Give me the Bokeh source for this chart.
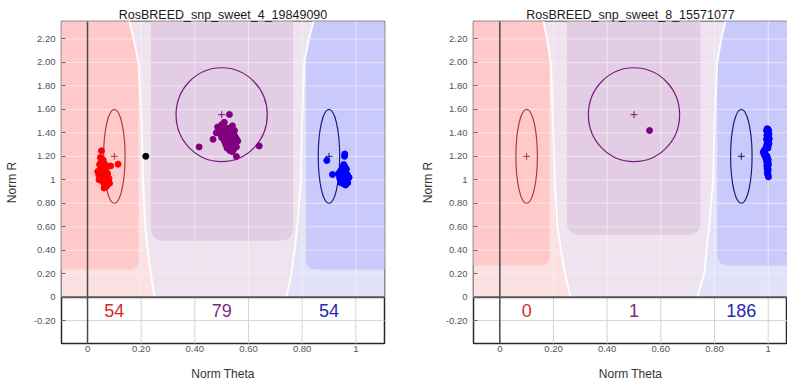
import numpy as np
from bokeh.plotting import figure
from bokeh.layouts import row
from bokeh.models import Range1d, FixedTicker
from bokeh.embed import file_html
from bokeh.resources import INLINE
from bokeh.core.properties import value

# ---------------- data ----------------
titles = ["RosBREED_snp_sweet_4_19849090", "RosBREED_snp_sweet_8_15571077"]
x_ticks = [0, 0.2, 0.4, 0.6, 0.8, 1.0]
x_tick_labels = ["0", "0.20", "0.40", "0.60", "0.80", "1"]
y_ticks = [-0.2, 0, 0.2, 0.4, 0.6, 0.8, 1.0, 1.2, 1.4, 1.6, 1.8, 2.0, 2.2]
y_tick_labels = ["-0.20", "0", "0.20", "0.40", "0.60", "0.80", "1", "1.20",
                 "1.40", "1.60", "1.80", "2.00", "2.20"]

# cluster ellipses: AA, AB, BB
cluster_x = [0.1, 0.5, 0.9]
cluster_y = [1.2, 1.555, 1.2]
cluster_w = [0.08, 0.34, 0.08]
cluster_h = [0.8, 0.8, 0.8]

counts_1 = [54, 79, 54]
counts_2 = [0, 1, 186]

# panel 1 samples
p1_aa_x = [0.052, 0.048, 0.058, 0.050, 0.062, 0.045, 0.070, 0.055, 0.060, 0.048,
           0.066, 0.055, 0.038, 0.070, 0.060, 0.050, 0.075, 0.042, 0.065, 0.057,
           0.072, 0.047, 0.062, 0.080, 0.043, 0.068, 0.055, 0.074, 0.060, 0.082,
           0.065, 0.072, 0.068, 0.062, 0.086, 0.114, 0.075, 0.058, 0.064, 0.052]
p1_aa_y = [1.247, 1.190, 1.170, 1.150, 1.140, 1.130, 1.120, 1.110, 1.100, 1.090,
           1.090, 1.080, 1.070, 1.070, 1.060, 1.055, 1.050, 1.040, 1.040, 1.030,
           1.020, 1.020, 1.010, 1.010, 1.000, 0.995, 0.990, 0.980, 0.975, 0.970,
           0.960, 0.950, 0.940, 0.930, 1.118, 1.133, 1.000, 1.060, 1.075, 1.035]
p1_ab_x = [0.485, 0.500, 0.510, 0.490, 0.505, 0.520, 0.480, 0.495, 0.510, 0.525,
           0.540, 0.530, 0.515, 0.500, 0.545, 0.550, 0.535, 0.520, 0.510, 0.530,
           0.545, 0.555, 0.540, 0.525, 0.550, 0.535, 0.520, 0.545, 0.530, 0.555,
           0.540, 0.515, 0.560, 0.525, 0.505, 0.548, 0.535,
           0.416, 0.468, 0.529, 0.640, 0.555, 0.490]
p1_ab_y = [1.450, 1.470, 1.490, 1.430, 1.420, 1.440, 1.400, 1.390, 1.400, 1.410,
           1.460, 1.380, 1.370, 1.360, 1.400, 1.370, 1.350, 1.340, 1.330, 1.320,
           1.330, 1.350, 1.300, 1.290, 1.310, 1.280, 1.270, 1.260, 1.250, 1.280,
           1.240, 1.300, 1.330, 1.360, 1.380, 1.420, 1.440,
           1.280, 1.345, 1.557, 1.288, 1.198, 1.415]
p1_bb_x = [0.892, 0.959, 0.958, 0.913, 0.955, 0.960, 0.950, 0.965, 0.945, 0.957,
           0.940, 0.962, 0.950, 0.935, 0.968, 0.955, 0.945, 0.960, 0.975, 0.940,
           0.952, 0.965, 0.948, 0.958, 0.970, 0.955, 0.945, 0.962, 0.942, 0.970]
p1_bb_y = [1.165, 1.220, 1.200, 1.045, 1.130, 1.110, 1.100, 1.090, 1.080, 1.075,
           1.065, 1.060, 1.050, 1.050, 1.045, 1.040, 1.030, 1.025, 1.020, 1.015,
           1.010, 1.000, 0.995, 0.985, 0.975, 0.965, 0.975, 0.955, 1.000, 1.035]
p1_nc_x = [0.217]
p1_nc_y = [1.20]

# panel 2 samples
p2_ab_x = [0.558]
p2_ab_y = [1.420]
p2_bb_x = [0.996, 1.000, 0.994, 1.002, 0.997, 1.003, 0.995, 1.000, 0.998, 1.004,
           0.994, 1.000, 0.997, 1.003, 0.995, 1.000, 0.993, 0.999, 0.990, 0.985,
           0.982, 0.988, 0.985, 0.992, 0.996, 0.990, 0.997, 1.000, 0.994, 0.999,
           0.996, 1.001, 0.995, 0.998, 0.996, 1.000, 0.997, 0.999, 0.998, 0.998,
           0.999, 1.001]
p2_bb_y = [1.435, 1.430, 1.420, 1.415, 1.400, 1.390, 1.380, 1.370, 1.360, 1.350,
           1.345, 1.335, 1.320, 1.310, 1.300, 1.290, 1.280, 1.270, 1.260, 1.250,
           1.235, 1.225, 1.215, 1.210, 1.200, 1.190, 1.180, 1.170, 1.160, 1.150,
           1.140, 1.130, 1.120, 1.110, 1.100, 1.090, 1.080, 1.070, 1.060, 1.050,
           1.045, 1.025]

# ---------------- styling / geometry ----------------
FONT = "Liberation Sans"
PT_COL = ["#ff0000", "#800080", "#0000ff"]
ELL_COL = ["#b03a3a", "#7a1a7a", "#1c1c80"]
CNT_COL = ["#d42a2a", "#7b2c7b", "#2828b4"]
DARK = ["#ffc9c9", "#e2cde4", "#c9c9fc"]
LIGHT = ["#fce1e3", "#efe3f0", "#e2e2f9"]

curve_y = [0.0, 0.2, 0.4, 0.6, 1.0, 1.5, 2.0, 2.2, 2.5]
bg1 = dict(L=[0.25, 0.236, 0.224, 0.215, 0.207, 0.202, 0.19, 0.172, 0.14],
           R=[0.742, 0.76, 0.772, 0.782, 0.795, 0.80, 0.808, 0.825, 0.86],
           aa_edge=0.19, aa_bot=0.235, ab_l=0.236, ab_r=0.766, ab_bot=0.48,
           bb_edge=0.814, bb_bot=0.235)
bg2 = dict(L=[0.263, 0.243, 0.228, 0.215, 0.205, 0.198, 0.19, 0.176, 0.15],
           R=[0.735, 0.762, 0.770, 0.780, 0.795, 0.80, 0.81, 0.825, 0.856],
           aa_edge=0.185, aa_bot=0.27, ab_l=0.25, ab_r=0.748, ab_bot=0.53,
           bb_edge=0.81, bb_bot=0.27)

Y0, Y1 = -0.395, 2.349


def band(left_fn, right_fn, yb, yt, rl, rr, rx, ry, n=240):
    ys = np.linspace(yb, yt, n)
    t = np.clip((yb + ry - ys) / ry, 0, 1)
    inset = 1 - np.sqrt(1 - t ** 2)
    xl = left_fn(ys) + (rx * inset if rl else 0)
    xr = right_fn(ys) - (rx * inset if rr else 0)
    return list(np.concatenate([xl, xr[::-1]])), list(np.concatenate([ys, ys[::-1]]))


def make_panel(title, xr, width, border_left, border_right, label_standoff, title_offset,
               bg, samples, counts):
    p = figure(width=width, height=383, x_range=Range1d(*xr), y_range=Range1d(Y0, Y1),
               output_backend="svg", toolbar_location=None,
               min_border_left=border_left, min_border_right=border_right,
               min_border_top=21, min_border_bottom=39)
    p.title.text = title
    p.title.text_font = FONT
    p.title.text_font_size = "12.5px"
    p.title.text_font_style = "normal"
    p.title.text_color = "#1a1a1a"
    p.title.align = "center"
    p.title.standoff = 0
    p.title.offset = title_offset
    p.xgrid.visible = False
    p.ygrid.visible = False
    p.background_fill_color = "white"
    p.border_fill_color = "white"
    p.outline_line_color = "#2a2a2a"
    p.outline_line_width = 1.5

    Lf = lambda y: np.interp(y, curve_y, bg["L"])
    Rf = lambda y: np.interp(y, curve_y, bg["R"])
    far_l = lambda y: np.full_like(y, -0.4)
    far_r = lambda y: np.full_like(y, 1.4)
    rx, ry = 10 / 268.0, 10 / 117.7

    # light zones
    for (lf, rf), col in zip([(far_l, Lf), (Lf, Rf), (Rf, far_r)], LIGHT):
        xs, ys = band(lf, rf, 0.0, 2.6, False, False, rx, ry)
        p.patch(xs, ys, fill_color=col, line_color=None)
    # dark cluster zones
    xs, ys = band(far_l, lambda y: np.minimum(bg["aa_edge"], Lf(y)), bg["aa_bot"], 2.6,
                  False, True, rx * 0.8, ry * 0.8)
    p.patch(xs, ys, fill_color=DARK[0], line_color=None)
    xs, ys = band(lambda y: np.maximum(bg["ab_l"], Lf(y)), lambda y: np.minimum(bg["ab_r"], Rf(y)),
                  bg["ab_bot"], 2.6, True, True, rx * 1.2, ry * 1.2)
    p.patch(xs, ys, fill_color=DARK[1], line_color=None)
    xs, ys = band(lambda y: np.maximum(bg["bb_edge"], Rf(y)), far_r, bg["bb_bot"], 2.6,
                  True, False, rx, ry)
    p.patch(xs, ys, fill_color=DARK[2], line_color=None)
    # white boundary curves
    cy = np.linspace(0, 2.6, 120)
    p.line(list(Lf(cy)), list(cy), line_color="white", line_width=2, line_alpha=0.9)
    p.line(list(Rf(cy)), list(cy), line_color="white", line_width=2, line_alpha=0.9)

    # grid
    gx = [t for t in x_ticks if t != 0]
    p.segment(x0=gx, y0=[0] * len(gx), x1=gx, y1=[2.6] * len(gx),
              line_color="#f4f4f4", line_alpha=0.7, line_width=1)
    p.segment(x0=gx, y0=[-0.5] * len(gx), x1=gx, y1=[0] * len(gx),
              line_color="#d4d4d4", line_width=1)
    gy_pos = [t for t in y_ticks if t > 0]
    gy_neg = [t for t in y_ticks if t < 0]
    p.segment(x0=[-0.4] * len(gy_pos), y0=gy_pos, x1=[1.4] * len(gy_pos), y1=gy_pos,
              line_color="#f4f4f4", line_alpha=0.7, line_width=1)
    p.segment(x0=[-0.4] * len(gy_neg), y0=gy_neg, x1=[1.4] * len(gy_neg), y1=gy_neg,
              line_color="#d4d4d4", line_width=1)
    # zero lines
    p.segment(x0=[0], y0=[-0.5], x1=[0], y1=[2.6], line_color="#4a4a4a", line_width=1.5)
    p.segment(x0=[-0.4], y0=[0], x1=[1.4], y1=[0], line_color="#555555", line_width=2)

    # ellipses + centers
    p.ellipse(x=cluster_x, y=cluster_y, width=cluster_w, height=cluster_h,
              fill_color=None, line_color=ELL_COL, line_width=1.2)
    p.scatter(cluster_x, cluster_y, marker="cross", size=7, line_color=ELL_COL, line_width=1)

    # samples
    for (sx, sy), col in samples:
        if len(sx):
            p.scatter(sx, sy, size=6, fill_color=col, line_color=col)

    # counts
    p.text(x=cluster_x, y=[-0.112] * 3, text=[str(c) for c in counts],
           text_color=CNT_COL, text_font=value(FONT), text_font_size="18px",
           text_align="center", text_baseline="middle")

    # axes
    for ax in (p.xaxis[0], p.yaxis[0]):
        ax.axis_line_color = None
        ax.major_tick_out = 0
        ax.minor_tick_line_color = None
        ax.major_label_text_font = FONT
        ax.major_label_text_font_size = "9.5px"
        ax.major_label_text_color = "#555555"
        ax.axis_label_text_font = FONT
        ax.axis_label_text_font_size = "12px"
        ax.axis_label_text_font_style = "normal"
        ax.axis_label_text_color = "#333333"
    p.xaxis.ticker = FixedTicker(ticks=x_ticks)
    p.xaxis.major_label_overrides = {t: l for t, l in zip(x_ticks, x_tick_labels)}
    p.yaxis.ticker = FixedTicker(ticks=y_ticks)
    p.yaxis.major_label_overrides = {t: l for t, l in zip(y_ticks, y_tick_labels)}
    p.xaxis.major_tick_line_color = None
    p.yaxis.major_tick_in = 4
    p.yaxis.major_tick_line_color = "#666666"
    p.xaxis.major_label_standoff = 2
    p.yaxis.major_label_standoff = 6
    p.xaxis.axis_label = "Norm Theta"
    p.yaxis.axis_label = "Norm R"
    p.xaxis.axis_label_standoff = 12
    p.yaxis.axis_label_standoff = label_standoff
    return p


p1 = make_panel(titles[0], (-0.097, 1.107), 392, 61, 8, 12, 0, bg1,
                [((p1_aa_x, p1_aa_y), PT_COL[0]), ((p1_ab_x, p1_ab_y), PT_COL[1]),
                 ((p1_bb_x, p1_bb_y), PT_COL[2]), ((p1_nc_x, p1_nc_y), "#000000")],
                counts_1)
p2 = make_panel(titles[1], (-0.098, 1.072), 395, 81, 0, 8, 5, bg2,
                [((p2_ab_x, p2_ab_y), PT_COL[1]), ((p2_bb_x, p2_bb_y), PT_COL[2])],
                counts_2)

layout = row(p1, p2)
open("out.html", "w").write(file_html(layout, INLINE))
